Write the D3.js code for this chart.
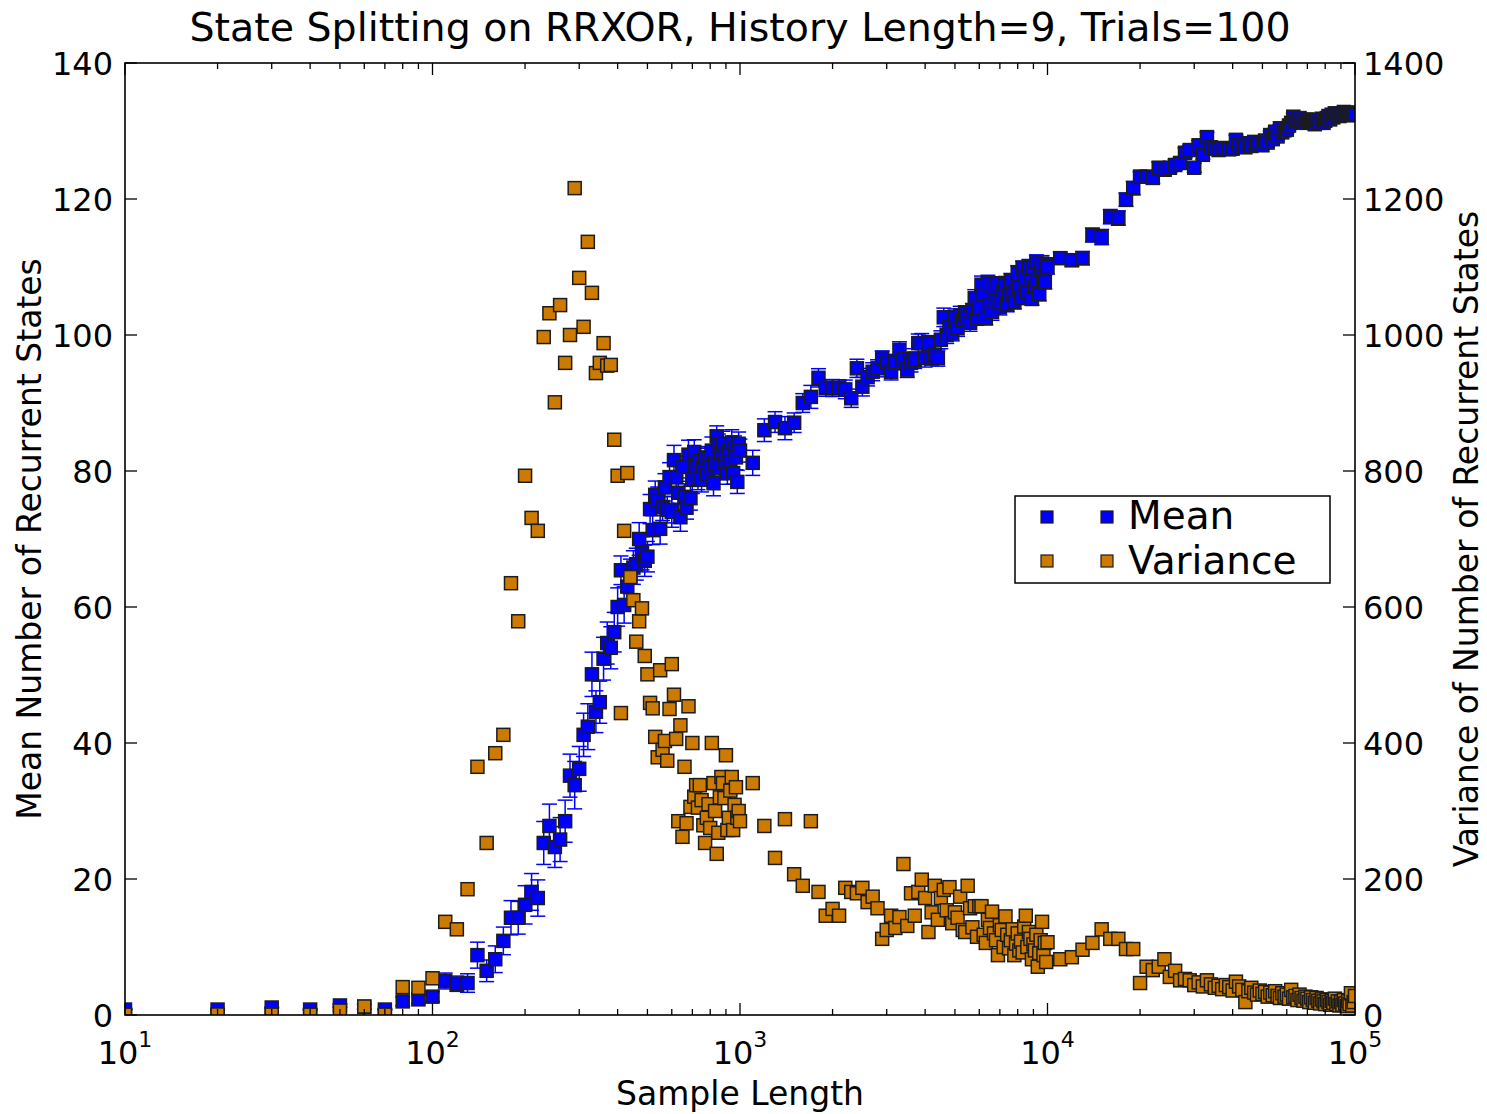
<!DOCTYPE html>
<html>
<head>
<meta charset="utf-8">
<script src="https://cdn.jsdelivr.net/npm/d3@7"></script>
<style>
  body { margin: 0; background: #fff; }
  text { font-family: "DejaVu Sans", sans-serif; fill: #000; }
</style>
</head>
<body>
<svg id="chart" width="1487" height="1114"></svg>
<script>
// Number of trials per sample length; the error bar is the standard error of the mean.
const trials = 100;

// Sample lengths: three regular grids (step 10, 100, 1000).
const lengthsShort = d3.range(10, 1001, 10);
const lengthsMid = d3.range(1100, 10001, 100);
const lengthsLong = d3.range(11000, 100001, 1000);

// Mean number of recurrent states
const meanShort = [
  0.8, 0.8, 1.1, 0.8, 1.4, 1.2, 0.8, 2.0, 2.3, 2.7,
  5.0, 4.6, 4.7, 8.8, 6.5, 8.2, 10.9, 14.3, 14.3, 16.2,
  18.1, 17.2, 25.3, 27.8, 24.7, 25.8, 28.5, 35.2, 33.8, 36.2,
  41.2, 42.4, 50.1, 44.6, 46.0, 52.4, 54.7, 54.0, 56.3, 60.0,
  65.4, 60.3, 63.0, 64.5, 65.8, 66.3, 70.0, 67.9, 66.8, 67.4,
  74.4, 71.3, 76.5, 75.7, 71.5, 74.7, 77.6, 74.3, 79.1, 74.0,
  81.6, 79.1, 76.8, 73.2, 80.6, 76.2, 74.6, 82.4, 76.0, 78.7,
  82.8, 80.6, 79.0, 81.5, 78.7, 80.6, 82.0, 79.5, 81.8, 80.6,
  83.0, 78.2, 81.0, 85.1, 83.8, 80.5, 82.8, 84.0, 81.3, 82.5,
  79.7, 83.0, 81.3, 84.2, 79.7, 83.4, 82.0, 78.4, 84.0, 83.0
];
const meanMid = [
  81.2, 86.0, 87.2, 86.3, 87.1, 90.0, 90.9, 93.7, 92.2, 92.2,
  92.2, 92.0, 90.7, 95.1, 92.4, 93.8, 94.6, 95.1, 96.6, 96.0,
  94.6, 96.0, 97.8, 96.5, 94.9, 95.9, 96.3, 98.8, 98.8, 96.6,
  98.8, 96.8, 97.1, 96.6, 99.3, 102.6, 100.0, 101.2, 100.3, 102.6,
  101.0, 102.9, 102.2, 103.2, 102.6, 101.8, 103.5, 105.4, 102.5, 104.0,
  107.4, 106.0, 102.5, 107.6, 104.5, 103.4, 107.0, 105.0, 107.6, 104.1,
  104.9, 106.5, 107.4, 104.5, 105.9, 108.0, 106.0, 104.8, 106.5, 109.1,
  107.0, 105.5, 109.9, 107.0, 108.5, 106.3, 110.0, 108.0, 105.3, 109.9,
  107.2, 110.7, 108.1, 106.0, 109.6, 110.5, 108.0, 107.8, 110.4, 110.0
];
const meanLong = [
  111.3, 111.0, 111.3, 114.7, 114.4, 117.4, 117.2, 119.9, 121.6, 123.3,
  123.3, 123.1, 124.6, 124.3, 124.6, 125.0, 125.3, 126.8, 127.2, 124.6,
  127.9, 126.5, 129.1, 127.6, 127.4, 127.2, 127.5, 127.4, 127.3, 127.4,
  128.7, 127.9, 128.0, 127.6, 128.2, 127.8, 128.4, 128.0, 128.3, 127.9,
  128.6, 128.3, 129.4, 128.8, 129.9, 129.2, 130.4, 129.8, 130.1, 130.2,
  130.8, 131.2, 132.1, 131.5, 131.6, 131.9, 131.4, 131.6, 131.2, 131.7,
  131.3, 131.5, 131.2, 131.0, 131.6, 131.2, 131.4, 131.8, 131.2, 131.5,
  131.9, 132.2, 131.7, 132.4, 132.0, 132.6, 132.3, 132.5, 132.2, 132.6,
  132.4, 132.8, 132.5, 132.7, 132.4, 132.6, 132.3, 132.7, 132.5, 132.4
];

// Variance of the number of recurrent states
const varianceShort = [
  0.5, 0.8, 0.6, 0.5, 6.5, 12.5, 0.6, 41, 40, 54,
  137, 126, 185, 365, 253, 385, 412, 635, 579, 793,
  731, 712, 997, 1032, 901, 1044, 959, 1000, 1216, 1084,
  1012, 1137, 1062, 944, 959, 988, 955, 956, 846, 793,
  444, 712, 797, 644, 610, 549, 579, 598, 528, 501,
  459, 451, 409, 379, 507, 390, 403, 374, 450, 516,
  471, 406, 285, 426, 262, 365, 282, 454, 306, 400,
  321, 338, 305, 338, 316, 279, 253, 290, 310, 275,
  400, 341, 300, 237, 268, 320, 350, 341, 319, 382,
  272, 290, 330, 350, 272, 309, 335, 290, 300, 285
];
const varianceMid = [
  341, 278, 231, 288, 207, 190, 285, 181, 146, 156,
  146, 187, 181, 179, 187, 166, 174, 157, 112, 125,
  146, 128, 144, 222, 131, 179, 146, 181, 199, 172,
  122, 151, 190, 140, 172, 184, 154, 188, 135, 151,
  143, 174, 125, 122, 190, 157, 129, 160, 115, 160,
  160, 118, 106, 140, 128, 152, 120, 110, 88, 132,
  125, 100, 145, 118, 98, 110, 126, 88, 105, 120,
  95, 108, 92, 130, 146, 100, 122, 112, 82, 104,
  95, 118, 71, 91, 110, 137, 88, 106, 78, 107
];
const varianceLong = [
  82, 85, 96, 106, 126, 112, 112, 97, 97, 47,
  71, 66, 71, 82, 56, 65, 51, 53, 51, 44,
  48, 42, 51, 45, 40, 43, 38, 44, 41, 36,
  49, 42, 37, 19, 35, 40, 33, 30, 36, 31,
  34, 27, 33, 29, 35, 28, 25, 32, 27, 30,
  24, 37, 26, 28, 22, 30, 25, 21, 27, 24,
  19, 26, 22, 18, 25, 21, 17, 23, 20, 16,
  22, 19, 15, 21, 18, 24, 16, 20, 14, 19,
  15, 22, 17, 13, 20, 16, 32, 14, 19, 28
];

const xMajorTicks = [10, 100, 1000, 10000, 100000];
const xTickExponents = ["1", "2", "3", "4", "5"];
const meanTicks = [0, 20, 40, 60, 80, 100, 120, 140];
const varianceTicks = [0, 200, 400, 600, 800, 1000, 1200, 1400];

const titleText = "State Splitting on RRXOR, History Length=9, Trials=100";
const xLabel = "Sample Length";
const yLeftLabel = "Mean Number of Recurrent States";
const yRightLabel = "Variance of Number of Recurrent States";
const seriesNames = ["Mean", "Variance"];

// ---- assemble rows ----
const lengths = lengthsShort.concat(lengthsMid, lengthsLong);
const means = meanShort.concat(meanMid, meanLong);
const variances = varianceShort.concat(varianceMid, varianceLong);
const rows = lengths.map((n, i) => ({
  n, mean: means[i], variance: variances[i],
  err: Math.sqrt(variances[i] / trials)
}));

// ---- layout ----
const W = 1487, H = 1114;
const plot = { left: 125, right: 1355, top: 63, bottom: 1015 };
const blue = "#0000ff", orange = "#cc7a00", edge = "#1c1c1c";
const markerSize = 13;

const svg = d3.select("#chart");
svg.append("rect").attr("width", W).attr("height", H).attr("fill", "#fff");

const x = d3.scaleLog().domain([10, 100000]).range([plot.left, plot.right]);
const yMean = d3.scaleLinear().domain([0, 140]).range([plot.bottom, plot.top]);
const yVar = d3.scaleLinear().domain([0, 1400]).range([plot.bottom, plot.top]);

svg.append("clipPath").attr("id", "plotClip")
  .append("rect")
  .attr("x", plot.left).attr("y", plot.top)
  .attr("width", plot.right - plot.left).attr("height", plot.bottom - plot.top);

const marks = svg.append("g").attr("clip-path", "url(#plotClip)");

// error bars for the mean
const eb = marks.append("g").attr("stroke", blue).attr("stroke-width", 1.5).attr("fill", "none");
eb.selectAll("line.v").data(rows).join("line").attr("class", "v")
  .attr("x1", d => x(d.n)).attr("x2", d => x(d.n))
  .attr("y1", d => yMean(d.mean - d.err)).attr("y2", d => yMean(d.mean + d.err));
eb.selectAll("line.lo").data(rows).join("line").attr("class", "lo")
  .attr("x1", d => x(d.n) - 7.5).attr("x2", d => x(d.n) + 7.5)
  .attr("y1", d => yMean(d.mean - d.err)).attr("y2", d => yMean(d.mean - d.err));
eb.selectAll("line.hi").data(rows).join("line").attr("class", "hi")
  .attr("x1", d => x(d.n) - 7.5).attr("x2", d => x(d.n) + 7.5)
  .attr("y1", d => yMean(d.mean + d.err)).attr("y2", d => yMean(d.mean + d.err));

// mean markers
marks.append("g").selectAll("rect").data(rows).join("rect")
  .attr("x", d => x(d.n) - markerSize / 2).attr("y", d => yMean(d.mean) - markerSize / 2)
  .attr("width", markerSize).attr("height", markerSize)
  .attr("fill", blue).attr("stroke", edge).attr("stroke-width", 1.5);

// variance markers (right axis)
marks.append("g").selectAll("rect").data(rows).join("rect")
  .attr("x", d => x(d.n) - markerSize / 2).attr("y", d => yVar(d.variance) - markerSize / 2)
  .attr("width", markerSize).attr("height", markerSize)
  .attr("fill", orange).attr("stroke", edge).attr("stroke-width", 1.5);

// ---- frame and ticks (pointing inward) ----
const axes = svg.append("g").attr("stroke", "#000").attr("stroke-width", 1.3);
const majorLen = 12, minorLen = 6;
const xMinor = [];
[10, 100, 1000, 10000].forEach(d => { for (let k = 2; k <= 9; k++) xMinor.push(d * k); });

function xTicks(vals, len) {
  axes.selectAll(null).data(vals).join("line")
    .attr("x1", d => x(d)).attr("x2", d => x(d))
    .attr("y1", plot.bottom).attr("y2", plot.bottom - len);
  axes.selectAll(null).data(vals).join("line")
    .attr("x1", d => x(d)).attr("x2", d => x(d))
    .attr("y1", plot.top).attr("y2", plot.top + len);
}
xTicks(xMajorTicks, majorLen);
xTicks(xMinor, minorLen);

axes.selectAll(null).data(meanTicks).join("line")
  .attr("x1", plot.left).attr("x2", plot.left + majorLen)
  .attr("y1", d => yMean(d)).attr("y2", d => yMean(d));
axes.selectAll(null).data(varianceTicks).join("line")
  .attr("x1", plot.right).attr("x2", plot.right - majorLen)
  .attr("y1", d => yVar(d)).attr("y2", d => yVar(d));

svg.append("rect")
  .attr("x", plot.left).attr("y", plot.top)
  .attr("width", plot.right - plot.left).attr("height", plot.bottom - plot.top)
  .attr("fill", "none").attr("stroke", "#000").attr("stroke-width", 1.6);

// ---- tick labels ----
const tickFont = 32;
const xl = svg.append("g");
xMajorTicks.forEach((d, i) => {
  const t = xl.append("text")
    .attr("x", x(d)).attr("y", 1064)
    .attr("text-anchor", "middle").attr("font-size", tickFont);
  t.append("tspan").text("10");
  t.append("tspan").attr("font-size", 22).attr("dy", -17).text(xTickExponents[i]);
});

svg.append("g").selectAll("text").data(meanTicks).join("text")
  .attr("x", plot.left - 12).attr("y", d => yMean(d) + 11.5)
  .attr("text-anchor", "end").attr("font-size", tickFont).text(d => d);

svg.append("g").selectAll("text").data(varianceTicks).join("text")
  .attr("x", plot.right + 8).attr("y", d => yVar(d) + 11.5)
  .attr("text-anchor", "start").attr("font-size", tickFont).text(d => d);

// ---- titles ----
svg.append("text").attr("x", 740).attr("y", 41)
  .attr("text-anchor", "middle").attr("font-size", 39.5).text(titleText);
svg.append("text").attr("x", 740).attr("y", 1105)
  .attr("text-anchor", "middle").attr("font-size", 33).text(xLabel);
svg.append("text").attr("transform", "translate(41,539) rotate(-90)")
  .attr("text-anchor", "middle").attr("font-size", 33).text(yLeftLabel);
svg.append("text").attr("transform", "translate(1478,539) rotate(-90)")
  .attr("text-anchor", "middle").attr("font-size", 33).text(yRightLabel);

// ---- legend ----
const lg = svg.append("g");
lg.append("rect").attr("x", 1015).attr("y", 496).attr("width", 315).attr("height", 87)
  .attr("fill", "#fff").attr("stroke", "#000").attr("stroke-width", 1.5);
const legendSize = 12;
[[blue, 517, 529], [orange, 561, 574]].forEach(([c, cy, by], i) => {
  [1047, 1107].forEach(cx => {
    lg.append("rect").attr("x", cx - legendSize / 2).attr("y", cy - legendSize / 2)
      .attr("width", legendSize).attr("height", legendSize)
      .attr("fill", c).attr("stroke", edge).attr("stroke-width", 1.2);
  });
  lg.append("text").attr("x", 1128).attr("y", by).attr("font-size", 39).text(seriesNames[i]);
});
</script>
</body>
</html>
